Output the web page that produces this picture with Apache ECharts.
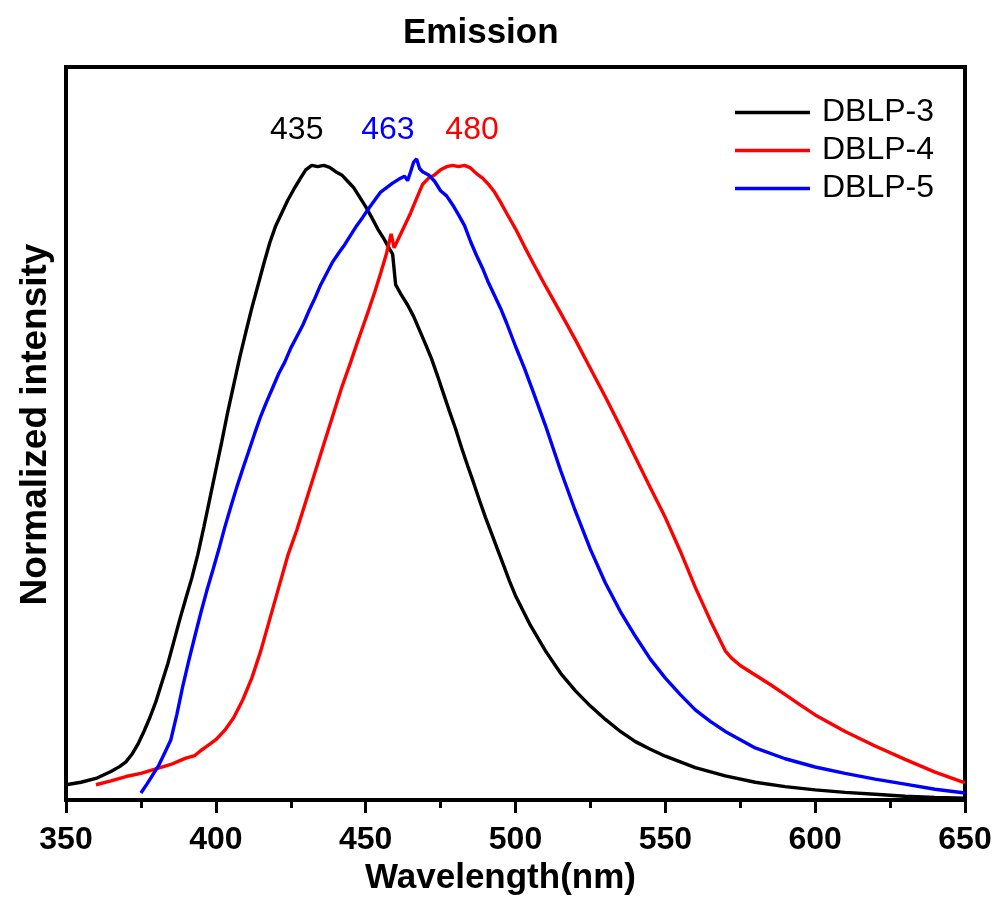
<!DOCTYPE html>
<html>
<head>
<meta charset="utf-8">
<script src="https://cdn.jsdelivr.net/npm/echarts@6/dist/echarts.min.js"></script>
<style>html,body{margin:0;padding:0;background:#fff;}#c{width:997px;height:901px;}</style>
</head>
<body>
<div id="c"></div>
<script>
var seriesNames = ['DBLP-3', 'DBLP-4', 'DBLP-5'];
var seriesColors = ['#000000', '#ff0000', '#0000ff'];
var xTicks = [350, 400, 450, 500, 550, 600, 650];
var peakLabels = ['435', '480', '463'];
var peakLabelX = [427, 485.5, 457.4];
var peakLabelY = [1.055, 1.055, 1.055];

var wl3 = [350,355,360,365,368,370,372,374,376,378,380,382,384,386,388,390,392,394,396,398,400,402,404,406,408,410,412,414,416,418,420,422,424,426,428,430,432,434,436,438,440,442,444,446,448,450,452,454,456,458,459,460,462,464,466,468,470,472,474,476,478,480,482,484,486,488,490,492,494,496,498,500,505,510,515,520,525,530,535,540,545,550,555,560,570,580,590,600,610,620,630,640,650];
var int3 = [0.024,0.028,0.034,0.045,0.053,0.060,0.072,0.088,0.108,0.130,0.155,0.185,0.215,0.250,0.285,0.318,0.350,0.387,0.430,0.475,0.520,0.565,0.612,0.655,0.698,0.737,0.775,0.810,0.845,0.878,0.905,0.925,0.945,0.962,0.978,0.993,1.000,0.998,1.000,0.997,0.990,0.985,0.975,0.965,0.950,0.935,0.918,0.900,0.885,0.868,0.860,0.812,0.795,0.780,0.762,0.740,0.718,0.695,0.668,0.640,0.612,0.585,0.555,0.527,0.500,0.472,0.445,0.420,0.395,0.370,0.345,0.322,0.275,0.235,0.200,0.172,0.148,0.127,0.108,0.092,0.080,0.069,0.060,0.051,0.038,0.028,0.021,0.016,0.012,0.009,0.006,0.004,0.003];

var wl4 = [360,365,370,375,380,385,388,390,393,395,398,400,403,406,409,412,415,418,421,424,427,430,433,436,439,442,445,447,449,451,453,455,457,458.5,459.5,461,463,465,467,469,471,473,475,477,479,481,483,485,487,489,491,493,495,497,500,503,506,510,515,520,525,530,535,540,545,550,555,560,565,570,572,575,580,585,590,595,600,610,620,630,640,650];
var int4 = [0.024,0.030,0.037,0.042,0.049,0.056,0.062,0.066,0.070,0.078,0.088,0.095,0.110,0.130,0.158,0.192,0.235,0.285,0.335,0.385,0.425,0.470,0.515,0.560,0.605,0.650,0.690,0.718,0.745,0.772,0.800,0.830,0.862,0.892,0.870,0.885,0.905,0.925,0.948,0.970,0.980,0.985,0.993,0.998,1.000,0.998,1.000,0.996,0.987,0.980,0.970,0.958,0.942,0.925,0.900,0.872,0.845,0.810,0.768,0.725,0.680,0.635,0.588,0.540,0.492,0.445,0.392,0.335,0.283,0.235,0.224,0.212,0.197,0.182,0.166,0.150,0.134,0.108,0.085,0.064,0.044,0.027];

var wl5 = [375,377,379,381,383,385,387,389,391,393,395,397,399,401,403,405,407,409,411,413,415,417,419,421,423,425,427,429,431,433,435,437,439,441,443,445,447,449,451,453,455,457,459,461,463,464,465,466,467,468,469,471,473,475,477,479,481,483,485,487,489,491,493,495,497,500,503,506,510,515,520,525,530,535,540,545,550,555,560,565,570,575,580,590,600,610,620,630,640,650];
var int5 = [0.011,0.025,0.040,0.055,0.075,0.095,0.135,0.180,0.220,0.258,0.295,0.330,0.362,0.395,0.430,0.462,0.493,0.522,0.550,0.578,0.605,0.628,0.650,0.672,0.690,0.712,0.730,0.748,0.770,0.790,0.812,0.830,0.848,0.862,0.875,0.890,0.905,0.918,0.932,0.945,0.958,0.965,0.972,0.978,0.983,0.976,0.990,1.005,1.010,0.995,0.990,0.985,0.975,0.960,0.952,0.938,0.922,0.905,0.880,0.858,0.838,0.815,0.795,0.775,0.752,0.715,0.680,0.642,0.590,0.520,0.455,0.395,0.342,0.297,0.258,0.222,0.192,0.166,0.142,0.124,0.108,0.095,0.082,0.065,0.052,0.042,0.033,0.025,0.017,0.011];

var wls = [wl3, wl4, wl5];
var ints = [int3, int4, int5];

function zip(a, b) { return a.map(function (v, i) { return [v, b[i]]; }); }

var FONT = 'Liberation Sans, Arial, sans-serif';
var chart = echarts.init(document.getElementById('c'), null, {renderer: 'canvas'});

var series = seriesNames.map(function (n, i) {
  return {
    name: n,
    type: 'line',
    data: zip(wls[i], ints[i]),
    showSymbol: false,
    symbol: 'none',
    lineStyle: {color: seriesColors[i], width: 3.4},
    itemStyle: {color: seriesColors[i]},
    z: 2,
    markPoint: {
      symbol: 'circle',
      symbolSize: 0,
      itemStyle: {color: 'rgba(0,0,0,0)'},
      label: {show: true, position: 'inside', formatter: '{c}', color: seriesColors[i], fontSize: 32, fontFamily: FONT},
      data: [{coord: [peakLabelX[i], peakLabelY[i]], value: peakLabels[i]}]
    }
  };
});

chart.setOption({
  animation: false,
  backgroundColor: '#ffffff',
  title: {
    text: 'Emission',
    left: 398,
    top: 11,
    textStyle: {fontSize: 35, fontWeight: 'bold', color: '#000', fontFamily: FONT}
  },
  legend: {
    orient: 'vertical',
    left: 735,
    top: 96,
    padding: 0,
    icon: 'rect',
    itemWidth: 75,
    itemHeight: 3.5,
    itemGap: 5,
    data: seriesNames,
    textStyle: {fontSize: 32, lineHeight: 33, color: '#000', fontFamily: FONT, padding: [0, 0, 0, 7]}
  },
  grid: {
    left: 66, right: 32, top: 67, bottom: 101,
    show: true, borderColor: '#000', borderWidth: 4, backgroundColor: 'transparent'
  },
  xAxis: {
    type: 'value',
    min: xTicks[0],
    max: xTicks[xTicks.length - 1],
    interval: 50,
    name: 'Wavelength(nm)',
    nameLocation: 'middle',
    nameGap: 60,
    nameTextStyle: {fontSize: 35, fontWeight: 'bold', color: '#000', fontFamily: FONT, padding: [0, 30, 0, 0]},
    axisLine: {show: true, lineStyle: {color: '#000', width: 4}},
    axisTick: {show: true, inside: false, length: 13, lineStyle: {color: '#000', width: 3}},
    minorTick: {show: true, splitNumber: 2, length: 8, lineStyle: {color: '#000', width: 3}},
    axisLabel: {fontSize: 32, fontWeight: 'bold', color: '#000', fontFamily: FONT, margin: 24},
    splitLine: {show: false},
    minorSplitLine: {show: false}
  },
  yAxis: {
    type: 'value',
    min: 0,
    max: 1.155,
    name: 'Normalized intensity',
    nameLocation: 'middle',
    nameRotate: 90,
    nameGap: 12,
    nameTextStyle: {fontSize: 37, fontWeight: 'bold', color: '#000', fontFamily: FONT, padding: [0, 0, 0, 18]},
    axisLine: {show: true, lineStyle: {color: '#000', width: 4}},
    axisTick: {show: false},
    axisLabel: {show: false},
    splitLine: {show: false}
  },
  series: series
});
</script>
</body>
</html>
